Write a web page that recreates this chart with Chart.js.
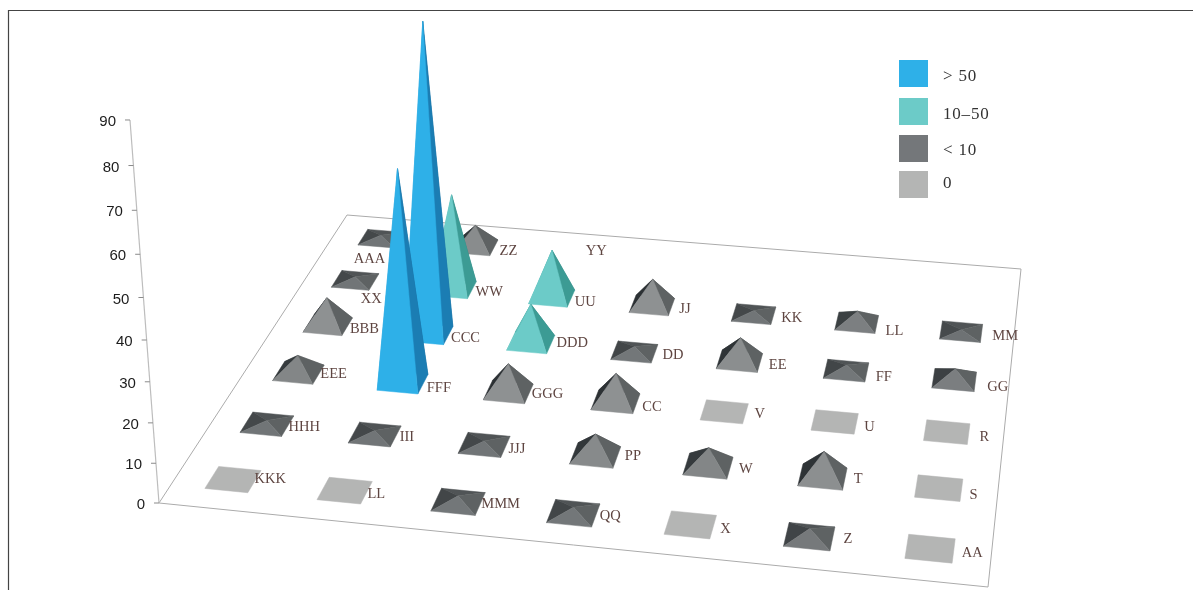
<!DOCTYPE html>
<html>
<head>
<meta charset="utf-8">
<style>html,body{margin:0;padding:0;background:#fff}canvas{display:block}</style>
<script src="https://cdn.jsdelivr.net/npm/chart.js@4"></script>
</head>
<body>
<canvas id="c" width="1193" height="590"></canvas>
<script>
// Rows run front to back; a null value means the cell is labelled but has no mark.
const row0Names = ['KKK','LL','MMM','QQ','X','Z','AA'];
const row0Values = [0,0,1.5,1.5,0,2,0];
const row1Names = ['HHH','III','JJJ','PP','W','T','S'];
const row1Values = [1,1,1,5.5,4.7,6.5,0];
const row2Names = ['EEE','FFF','GGG','CC','V','U','R'];
const row2Values = [4.7,55,7.5,7.5,0,0,0];
const row3Names = ['BBB','CCC','DDD','DD','EE','FF','GG'];
const row3Values = [7.5,81,10.5,1.5,6.3,1.5,3];
const row4Names = ['XX','WW','UU','JJ','KK','LL','MM'];
const row4Values = [1,26,13,7.3,1,3.2,0.5];
const row5Names = ['AAA','ZZ','YY'];
const row5Values = [1,6,null];
const rowNames = [row0Names,row1Names,row2Names,row3Names,row4Names,row5Names];
const rowValues = [row0Values,row1Values,row2Values,row3Values,row4Values,row5Values];
const classLabels = ['> 50','10\u201350','< 10','0'];
const classColors = ['#2EB0E8','#6CCBC8','#74777A','#B4B5B4'];
const valueTicks = {min:0,max:90,step:10};

// Floor outline and camera used to turn (column,row,value) into canvas positions.
const floorQuad = [[159,503],[988,587],[1021,269],[347,215]];
const verticalVanish = [522,5296];
const heightGain = -0.074;
const footprint = 0.385;

function classOf(v){ return v > 50 ? 0 : v >= 10 ? 1 : v > 0 ? 2 : 3; }

function buildDatasets(){
  const groups = classLabels.map(()=>[]);
  rowValues.forEach((vals,r)=>vals.forEach((v,c)=>{
    if(v===null) return;
    groups[classOf(v)].push({x:c+0.5,y:r+0.5,v,name:rowNames[r][c]});
  }));
  return groups.map((data,i)=>({label:classLabels[i],data,backgroundColor:classColors[i],pointRadius:0,showLine:false}));
}

function solveFloor(q){
  const [p0,p1,p2,p3]=q;
  const dx1=p1[0]-p2[0],dx2=p3[0]-p2[0],sx=p0[0]-p1[0]+p2[0]-p3[0];
  const dy1=p1[1]-p2[1],dy2=p3[1]-p2[1],sy=p0[1]-p1[1]+p2[1]-p3[1];
  const den=dx1*dy2-dx2*dy1;
  const g=(sx*dy2-dx2*sy)/den,h=(dx1*sy-sx*dy1)/den;
  return {a:p1[0]-p0[0]+g*p1[0],b:p3[0]-p0[0]+h*p3[0],c:p0[0],
          d:p1[1]-p0[1]+g*p1[1],e:p3[1]-p0[1]+h*p3[1],f:p0[1],g,h};
}
const floorH = solveFloor(floorQuad);

// Column, row and value go through their Chart.js scales, then through the camera.
function place(chart,col,row,val){
  const s=chart.scales,area=chart.chartArea;
  const u=(s.x.getPixelForValue(col)-area.left)/area.width;
  const v=(area.bottom-s.y.getPixelForValue(row))/area.height;
  const z=(area.bottom-s.value.getPixelForValue(val))/area.height;
  const H=floorH,kz=heightGain*z;
  const W=H.g*u+H.h*v+1+kz;
  return [(H.a*u+H.b*v+H.c+kz*verticalVanish[0])/W,(H.d*u+H.e*v+H.f+kz*verticalVanish[1])/W];
}

function poly(ctx,pts,fill){
  ctx.beginPath();
  pts.forEach((p,i)=>i?ctx.lineTo(p[0],p[1]):ctx.moveTo(p[0],p[1]));
  ctx.closePath();
  ctx.fillStyle=fill;ctx.fill();
  ctx.strokeStyle=fill;ctx.lineWidth=0.5;ctx.stroke();
}

// Gray pyramids catch more light on the front and less on the left as they get steeper.
function grayMix(v,lo,hi){
  const t=Math.min(1,v/7),m=(a,b)=>Math.round(a+(b-a)*t);
  return `rgb(${m(lo[0],hi[0])},${m(lo[1],hi[1])},${m(lo[2],hi[2])})`;
}
const faceShades = [
  {back:'#1A6C9C',left:'#2AA4DA',right:'#1B7DB3',front:'#2EB0E8'},
  {back:'#2F8480',left:'#58BDB6',right:'#3C9B94',front:'#6CCBC8'},
  {back:'#505456',left:null,right:'#5E6263',front:null}
];

function drawPyramid(chart,ctx,pt,cls){
  const d=footprint/2,x=pt.x,y=pt.y;
  const fl=place(chart,x-d,y-d,0),fr=place(chart,x+d,y-d,0),br=place(chart,x+d,y+d,0),bl=place(chart,x-d,y+d,0);
  if(cls===3){ poly(ctx,[fl,fr,br,bl],classColors[3]); return; }
  const top=place(chart,x,y,pt.v),sh=faceShades[cls];
  poly(ctx,[bl,br,top],sh.back);
  poly(ctx,[fl,bl,top],sh.left||grayMix(pt.v,[72,76,78],[44,49,52]));
  poly(ctx,[fr,br,top],sh.right);
  poly(ctx,[fl,fr,top],sh.front||grayMix(pt.v,[108,112,114],[142,145,146]));
}

const labelFont='14.5px "Liberation Serif"';
// Hand placement of each cell label around its mark, one row of offsets per row of cells.
const labelShift=[
  [[-2,-3],[-1,1],[-1,0],[2,1],[5,2],[9,0],[6,2]],
  [[-1,1],[2,1],[1,2],[6,-1],[7,1],[7,0],[6,5]],
  [[0,-1],[2,4],[1,0],[4,3],[7,0],[6,3],[9,3]],
  [[1,2],[1,2],[4,-2],[6,1],[7,2],[7,5],[10,5]],
  [[-15,17],[2,2],[2,3],[6,2],[6,2],[7,7],[9,3]],
  [[-47,19],[4,3],[-6,-5]]
];

const pyramidPlugin={
  id:'pyramids',
  beforeDatasetsDraw(chart){
    const ctx=chart.ctx,s=chart.scales;
    ctx.save();
    // page frame
    ctx.strokeStyle='#444';ctx.lineWidth=1.2;
    ctx.beginPath();ctx.moveTo(8.5,590);ctx.lineTo(8.5,10.5);ctx.lineTo(1193,10.5);ctx.stroke();
    // floor
    const xr=[s.x.min,s.x.max],yr=[s.y.min,s.y.max];
    const corners=[[xr[0],yr[0]],[xr[1],yr[0]],[xr[1],yr[1]],[xr[0],yr[1]]].map(c=>place(chart,c[0],c[1],0));
    ctx.strokeStyle='#ABABAB';ctx.lineWidth=1;
    ctx.beginPath();corners.forEach((p,i)=>i?ctx.lineTo(p[0],p[1]):ctx.moveTo(p[0],p[1]));ctx.closePath();ctx.stroke();
    // value axis
    const a0=place(chart,xr[0],yr[0],s.value.min),a1=place(chart,xr[0],yr[0],s.value.max);
    ctx.strokeStyle='#BDBDBD';ctx.lineWidth=1.2;
    ctx.beginPath();ctx.moveTo(a0[0],a0[1]);ctx.lineTo(a1[0],a1[1]);ctx.stroke();
    ctx.font='15px "Liberation Sans"';ctx.fillStyle='#1c1c1c';ctx.textAlign='right';ctx.textBaseline='middle';
    ctx.strokeStyle='#8a8a8a';ctx.lineWidth=1;
    s.value.ticks.forEach(t=>{
      const p=place(chart,xr[0],yr[0],t.value);
      ctx.beginPath();ctx.moveTo(p[0]-5,p[1]);ctx.lineTo(p[0],p[1]);ctx.stroke();
      ctx.fillText(String(t.value),p[0]-14,p[1]+2);
    });
    // marks, back rows first so nearer ones cover them
    const marks=[];
    chart.data.datasets.forEach((ds,i)=>ds.data.forEach(pt=>marks.push({pt,cls:i})));
    marks.sort((a,b)=>b.pt.y-a.pt.y||a.pt.x-b.pt.x);
    marks.forEach(m=>drawPyramid(chart,ctx,m.pt,m.cls));
    // cell labels
    ctx.font=labelFont;ctx.fillStyle='#5E4541';ctx.textAlign='left';ctx.textBaseline='middle';
    rowNames.forEach((names,r)=>names.forEach((n,c)=>{
      const p=place(chart,c+0.5+0.21,r+0.5,0),shift=labelShift[r][c];
      ctx.fillText(n,p[0]+shift[0],p[1]+shift[1]);
    }));
    // legend
    ctx.font='17px "Liberation Serif"';
    ctx.letterSpacing='0.8px';
    const keyTops=[60,98,135,171],keyText=[77,115,151,184];
    chart.data.datasets.forEach((ds,i)=>{
      ctx.fillStyle=ds.backgroundColor;ctx.fillRect(899,keyTops[i],29,27);
      ctx.fillStyle='#333';ctx.fillText(ds.label,943,keyText[i]);
    });
    ctx.restore();
  }
};

new Chart(document.getElementById('c'),{
  type:'scatter',
  data:{datasets:buildDatasets()},
  plugins:[pyramidPlugin],
  options:{
    responsive:false,animation:false,
    layout:{padding:0},
    plugins:{legend:{display:false},tooltip:{enabled:false}},
    scales:{
      x:{type:'linear',min:0,max:7,display:false},
      y:{type:'linear',min:0,max:6,display:false},
      value:{type:'linear',axis:'y',min:valueTicks.min,max:valueTicks.max,display:false,ticks:{stepSize:valueTicks.step}}
    }
  }
});
</script>
</body>
</html>
